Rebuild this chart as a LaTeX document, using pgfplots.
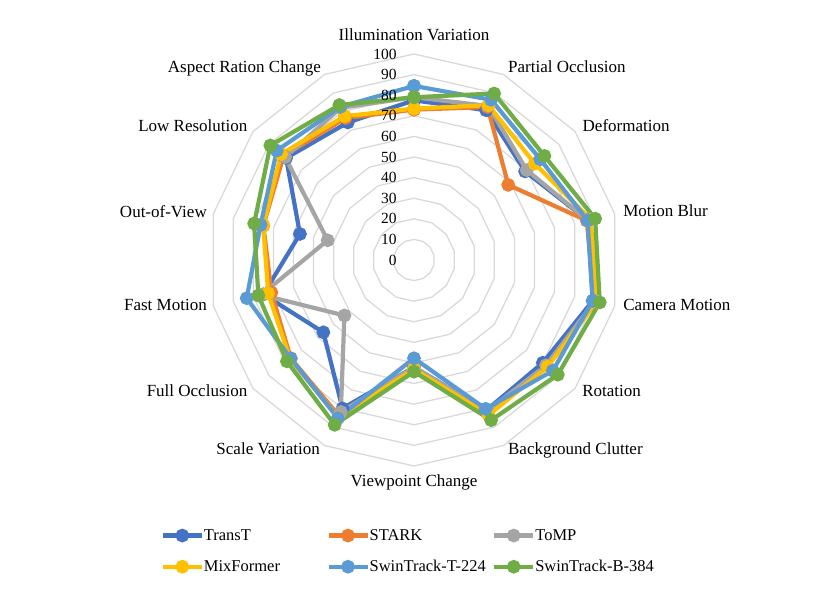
\documentclass[border=0pt]{standalone}
\usepackage{pgfplots}
\pgfplotsset{compat=1.18}
\usepackage{pgfplotstable}
\usepackage{fontspec}
\setmainfont{Liberation Serif}
\definecolor{cTransT}{HTML}{4472C4}
\definecolor{cSTARK}{HTML}{ED7D31}
\definecolor{cToMP}{HTML}{A5A5A5}
\definecolor{cMix}{HTML}{FFC000}
\definecolor{cSwinT}{HTML}{5B9BD5}
\definecolor{cSwinB}{HTML}{70AD47}
\definecolor{cGrid}{HTML}{D9D9D9}

\pgfplotstableread{
angle TransT STARK ToMP MixFormer SwinT SwinB
90 77.5 73 79 73.5 84.5 79
64.2857 80.7 82.4 83 83.4 86.3 89.7
38.5714 69 58.5 70 75 78.4 81
12.8571 86.5 86 86.5 88 86.4 90.2
-12.8571 89 90 90 91 89 92.5
-38.5714 80 82.5 82 83 86.2 89.3
-64.2857 81 82 81.5 83.6 80.2 86.3
-90 52 52.5 52 53 47.7 54.2
-115.7143 80 84 81.9 85 85.2 88.8
-141.4286 56.3 76.5 43.2 77 76.6 78.9
-167.1429 75 71 76 72.6 83.3 77.5
167.1429 56.8 75 43 75.1 76.4 79.6
141.4286 79.4 81 80 82.5 85.2 89.2
115.7143 74.1 76.5 82 77.5 82.5 83.5
90 77.5 73 79 73.5 84.5 79
}\datatable

\pgfplotstableread{
angle g10 g20 g30 g40 g50 g60 g70 g80 g90 g100
90 10 20 30 40 50 60 70 80 90 100
64.2857 10 20 30 40 50 60 70 80 90 100
38.5714 10 20 30 40 50 60 70 80 90 100
12.8571 10 20 30 40 50 60 70 80 90 100
-12.8571 10 20 30 40 50 60 70 80 90 100
-38.5714 10 20 30 40 50 60 70 80 90 100
-64.2857 10 20 30 40 50 60 70 80 90 100
-90 10 20 30 40 50 60 70 80 90 100
-115.7143 10 20 30 40 50 60 70 80 90 100
-141.4286 10 20 30 40 50 60 70 80 90 100
-167.1429 10 20 30 40 50 60 70 80 90 100
167.1429 10 20 30 40 50 60 70 80 90 100
141.4286 10 20 30 40 50 60 70 80 90 100
115.7143 10 20 30 40 50 60 70 80 90 100
90 10 20 30 40 50 60 70 80 90 100
}\gridtable

\begin{document}
\begin{tikzpicture}
\useasboundingbox (0,0) rectangle (830bp,589bp);
\begin{axis}[
  at={(0,0)}, anchor=south west,
  scale only axis, width=830bp, height=589bp,
  xmin=-200.97, xmax=201.94, ymin=-159.71, ymax=126.21,
  hide axis, clip=false,
  legend columns=3,
  legend image code/.code={\draw[mark repeat=2,mark phase=2,#1] plot coordinates {(0bp,0bp) (19.5bp,0bp) (39bp,0bp)};},
  legend style={draw=none, fill=none, font=\fontsize{16.5bp}{19bp}\selectfont,
    at={(axis cs:-124.5,-129.2)}, anchor=north west,
    nodes={inner sep=1bp}, cells={anchor=west},
    /tikz/every odd column/.append style={column sep=-1bp},
    /tikz/every even column/.append style={column sep=0bp},
    row sep=16.5bp},
  every axis plot/.append style={line width=4.2bp, mark=*, mark size=4.7bp, mark options={solid}},
]
\pgfplotsinvokeforeach{10,20,30,40,50,60,70,80,90,100}{
  \addplot[cGrid, line width=1.3bp, no marks, data cs=polar, forget plot] table[x=angle, y=g#1] {\gridtable};
}
\addplot[cTransT, data cs=polar] table[x=angle, y=TransT] {\datatable};
\addlegendentry{\makebox[121.5bp][l]{TransT}}
\addplot[cSTARK, data cs=polar] table[x=angle, y=STARK] {\datatable};
\addlegendentry{\makebox[121.5bp][l]{STARK}}
\addplot[cToMP, data cs=polar] table[x=angle, y=ToMP] {\datatable};
\addlegendentry{\makebox[121.5bp][l]{ToMP}}
\addplot[cMix, data cs=polar] table[x=angle, y=MixFormer] {\datatable};
\addlegendentry{\makebox[121.5bp][l]{MixFormer}}
\addplot[cSwinT, data cs=polar] table[x=angle, y=SwinT] {\datatable};
\addlegendentry{\makebox[121.5bp][l]{SwinTrack-T-224}}
\addplot[cSwinB, data cs=polar] table[x=angle, y=SwinB] {\datatable};
\addlegendentry{\makebox[121.5bp][l]{SwinTrack-B-384}}

\begin{scope}[every node/.style={font=\fontsize{15.5bp}{18bp}\selectfont, anchor=east, inner sep=0pt}]
\node at (axis cs:-8.4,0) {0};
\node at (axis cs:-8.4,10) {10};
\node at (axis cs:-8.4,20) {20};
\node at (axis cs:-8.4,30) {30};
\node at (axis cs:-8.4,40) {40};
\node at (axis cs:-8.4,50) {50};
\node at (axis cs:-8.4,60) {60};
\node at (axis cs:-8.4,70) {70};
\node at (axis cs:-8.4,80) {80};
\node at (axis cs:-8.4,90) {90};
\node at (axis cs:-8.4,100) {100};
\end{scope}

\begin{scope}[every node/.style={font=\fontsize{17bp}{20bp}\selectfont, inner sep=0pt, text height=11.8bp, text depth=3.6bp}]
\node[anchor=center] at (axis cs:0,108.7) {Illumination Variation};
\node[anchor=west] at (axis cs:45.6,93.2) {Partial Occlusion};
\node[anchor=west] at (axis cs:81.8,64.6) {Deformation};
\node[anchor=west] at (axis cs:101.5,23.2) {Motion Blur};
\node[anchor=west] at (axis cs:101.5,-22.6) {Camera Motion};
\node[anchor=west] at (axis cs:81.6,-64.4) {Rotation};
\node[anchor=west] at (axis cs:45.6,-92.4) {Background Clutter};
\node[anchor=center] at (axis cs:0,-107.8) {Viewpoint Change};
\node[anchor=east] at (axis cs:-45.6,-92.4) {Scale Variation};
\node[anchor=east] at (axis cs:-80.8,-64.4) {Full Occlusion};
\node[anchor=east] at (axis cs:-100.5,-22.6) {Fast Motion};
\node[anchor=east] at (axis cs:-100.5,22.8) {Out-of-View};
\node[anchor=east] at (axis cs:-80.8,64.6) {Low Resolution};
\node[anchor=east] at (axis cs:-45.1,93.2) {Aspect Ration Change};
\end{scope}
\end{axis}
\end{tikzpicture}
\end{document}
